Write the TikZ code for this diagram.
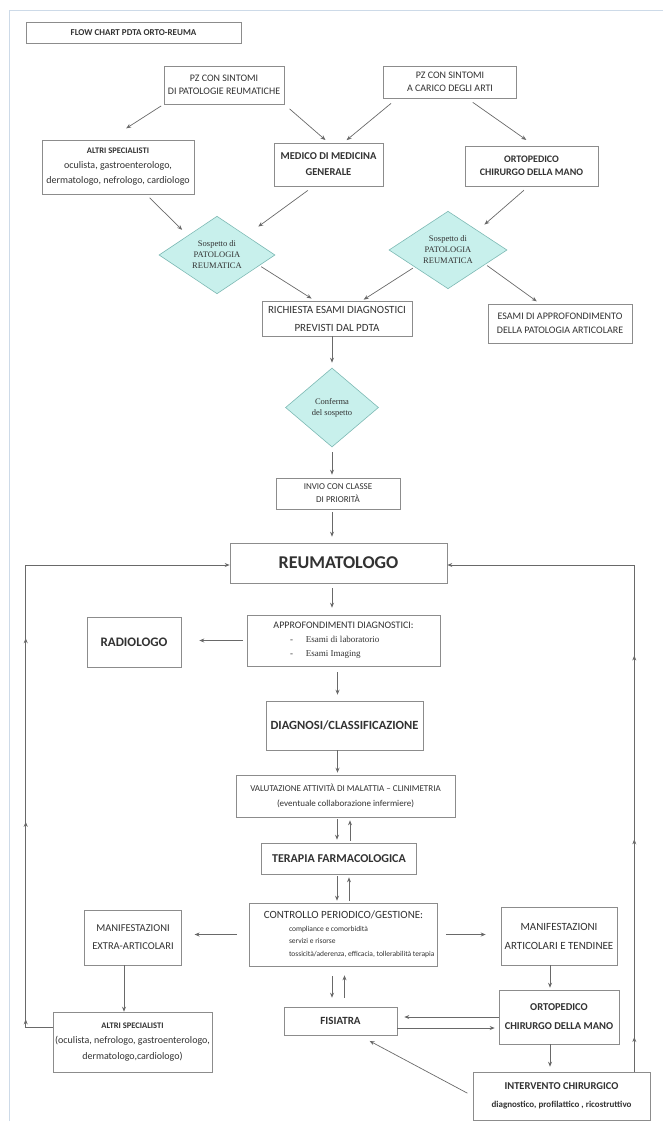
\documentclass[tikz,border=0pt]{standalone}
\usepackage{fontspec}
\setmainfont{Carlito}
\newfontfamily\serifd{Liberation Serif}
\usetikzlibrary{shapes.geometric,arrows.meta,decorations.markings}
\definecolor{bordo}{RGB}{140,140,140}
\definecolor{freccia}{RGB}{105,105,105}
\definecolor{testo}{RGB}{50,50,50}
\definecolor{rombo}{RGB}{200,240,236}
\definecolor{rombobordo}{RGB}{125,185,180}
\definecolor{cornice}{RGB}{205,218,232}
\newcommand{\fz}[2]{\fontsize{#1}{#2}\selectfont}
\newcommand{\voce}[2]{\makebox[#1pt][l]{\serifd\fz{9}{14}-\hspace{13pt}#2}}
\newcommand{\punto}[2]{\makebox[#1pt][l]{\fz{7.5}{12.5}#2}}
\tikzset{punta/.tip={Stealth[length=5pt,width=4pt]}}

\begin{document}
\begin{tikzpicture}[x=1pt,y=-1pt,
  box/.style={draw=bordo,line width=0.6pt,fill=white,text=testo,align=center,inner sep=0pt},
  rombo/.style={diamond,draw=rombobordo,line width=0.6pt,fill=rombo,text=testo,align=center,inner sep=0pt,font=\serifd\fz{8.5}{11}},
  arr/.style={draw=freccia,line width=0.7pt,-punta},
  giro/.style={draw=freccia,line width=0.8pt,-punta,postaction={decorate},
    decoration={markings,mark=at position 0.05 with {\arrow{punta}},
      mark=at position 0.335 with {\arrow{punta}},mark=at position 0.6 with {\arrow{punta}}}}]
  \useasboundingbox (0,0) rectangle (663,1129);
  \draw[cornice,line width=0.8pt] (9,1121) -- (9,10) -- (663,10); %枠

  \node[box,minimum width=215pt,minimum height=21pt,font=\bfseries\fz{9}{11}] (titolo) at (133.5,32.5) {FLOW CHART PDTA ORTO-REUMA};
  \node[box,minimum width=120pt,minimum height=38pt,font=\fz{10}{13}] (pz1) at (224,85) {PZ CON SINTOMI\\DI PATOLOGIE REUMATICHE};
  \node[box,minimum width=133pt,minimum height=32pt,font=\fz{10}{13}] (pz2) at (450,82) {PZ CON SINTOMI\\A CARICO DEGLI ARTI};
  \node[box,minimum width=152pt,minimum height=54pt,font=\fz{10}{15}] (altri1) at (118,167) {{\bfseries\fz{8.5}{15}ALTRI SPECIALISTI}\\oculista, gastroenterologo,\\dermatologo, nefrologo, cardiologo};
  \node[box,minimum width=109pt,minimum height=43pt,font=\bfseries\fz{10.5}{16}] (medico) at (328.5,164.5) {MEDICO DI MEDICINA\\GENERALE};
  \node[box,minimum width=133pt,minimum height=40pt,font=\bfseries\fz{10}{13.5}] (orto1) at (531.5,166) {ORTOPEDICO\\CHIRURGO DELLA MANO}; %上段

  \node[rombo,minimum width=116pt,minimum height=74pt] (d1) at (217,255) {Sospetto di\\PATOLOGIA\\REUMATICA};
  \node[rombo,minimum width=118pt,minimum height=76pt] (d2) at (448,250) {Sospetto di\\PATOLOGIA\\REUMATICA};
  \node[box,minimum width=150pt,minimum height=35pt,font=\fz{11}{18}] (richiesta) at (337,318.5) {RICHIESTA ESAMI DIAGNOSTICI\\PREVISTI DAL PDTA};
  \node[box,minimum width=144pt,minimum height=39pt,font=\fz{10}{14}] (esami) at (560,323.5) {ESAMI DI APPROFONDIMENTO\\DELLA PATOLOGIA ARTICOLARE};
  \node[rombo,minimum width=93pt,minimum height=79pt] (d3) at (332,407.5) {Conferma\\del sospetto};
  \node[box,minimum width=124pt,minimum height=31pt,font=\fz{9}{13}] (invio) at (338,493.5) {INVIO CON CLASSE\\DI PRIORITÀ}; %中段

  \node[box,minimum width=217pt,minimum height=40pt,font=\bfseries\fz{18}{20}] (reum) at (338.5,563) {REUMATOLOGO};
  \node[box,minimum width=193pt,minimum height=51pt,font=\fz{10}{14}] (approf) at (343.5,640.5) {APPROFONDIMENTI DIAGNOSTICI:\\\voce{107}{Esami di laboratorio}\\\voce{107}{Esami Imaging}};
  \node[box,minimum width=94pt,minimum height=50pt,font=\bfseries\fz{13}{16}] (radio) at (134,642) {RADIOLOGO};
  \node[box,minimum width=157pt,minimum height=49pt,font=\bfseries\fz{12.5}{14}] (diagnosi) at (344.5,725.5) {DIAGNOSI/CLASSIFICAZIONE};
  \node[box,minimum width=219pt,minimum height=42pt,font=\fz{9}{15}] (valut) at (345.5,796) {VALUTAZIONE ATTIVITÀ DI MALATTIA – CLINIMETRIA\\(eventuale collaborazione infermiere)};
  \node[box,minimum width=154.5pt,minimum height=31pt,font=\bfseries\fz{12}{14}] (terapia) at (339,858.5) {TERAPIA FARMACOLOGICA};
  \node[box,minimum width=188pt,minimum height=63pt,font=\fz{11}{12.5}] (controllo) at (343.5,934.5) {CONTROLLO PERIODICO/GESTIONE:\\\punto{109}{compliance e comorbidità}\\\punto{109}{servizi e risorse}\\\punto{109}{tossicità/aderenza, efficacia, tollerabilità terapia}};
  \node[box,minimum width=96.5pt,minimum height=55pt,font=\fz{10.5}{18}] (manifx) at (133,937.5) {MANIFESTAZIONI\\EXTRA-ARTICOLARI};
  \node[box,minimum width=116pt,minimum height=58pt,font=\fz{11}{19}] (manifa) at (559,936) {MANIFESTAZIONI\\ARTICOLARI E TENDINEE};
  \node[box,minimum width=159pt,minimum height=60pt,font=\fz{10}{15.5}] (altri2) at (132.5,1042) {{\bfseries\fz{8.5}{15.5}ALTRI SPECIALISTI}\\(oculista, nefrologo, gastroenterologo,\\dermatologo,cardiologo)};
  \node[box,minimum width=113pt,minimum height=28pt,font=\bfseries\fz{11}{13}] (fisiatra) at (340.5,1021) {FISIATRA};
  \node[box,minimum width=120pt,minimum height=54pt,font=\bfseries\fz{10.5}{19}] (orto2) at (559,1017) {ORTOPEDICO\\CHIRURGO DELLA MANO};
  \node[box,minimum width=177pt,minimum height=48pt,font=\bfseries\fz{10.5}{18}] (interv) at (561.5,1096) {INTERVENTO CHIRURGICO\\{\fz{9}{18}diagnostico, profilattico , ricostruttivo}}; %下段

  \draw[arr,shorten <=3pt,shorten >=21pt] (pz1.south west) -- ([xshift=-9.5pt]altri1.north);
  \draw[arr,shorten <=7pt,shorten >=4pt] (pz1.south east) -- (medico.north);
  \draw[arr,shorten <=8pt,shorten >=4pt] ([xshift=14pt]pz2.south west) -- ([xshift=15pt]medico.north);
  \draw[arr,shorten <=7pt,shorten >=10pt] ([xshift=17pt]pz2.south) -- ([xshift=3pt]orto1.north);
  \draw[arr,shorten <=5pt,shorten >=8pt] ([xshift=28pt]altri1.south) -- (d1.north west);
  \draw[arr,shorten <=7pt,shorten >=15pt] ([xshift=-15pt]medico.south) -- (d1.north east);
  \draw[arr,shorten <=6pt,shorten >=9pt] ([xshift=-3pt]orto1.south) -- (d2.north east); %上の矢印
  \draw[arr,shorten <=2pt,shorten >=4pt] (d1.-14) -- ([xshift=-22pt]richiesta.north);
  \draw[arr,shorten <=2pt,shorten >=2pt] (d2.207) -- ([xshift=25pt]richiesta.north);
  \draw[arr,shorten <=2pt,shorten >=4pt] (d2.-21) -- ([xshift=-20pt]esami.north);
  \draw[arr,shorten >=5pt] (richiesta.south -| d3.north) -- (d3.north);
  \draw[arr,shorten <=5pt,shorten >=3pt] (d3.south) -- (d3.south |- invio.north);
  \draw[arr,shorten <=3pt,shorten >=6pt] (d3.south |- invio.south) -- (d3.south |- reum.north);
  \draw[arr,shorten <=5pt,shorten >=7pt] (d3.south |- reum.south) -- (d3.south |- approf.north); %中央の矢印
  \draw[arr,shorten <=4pt,shorten >=18pt] (approf.west) -- (approf.west -| radio.east);
  \draw[arr,shorten <=6pt,shorten >=6pt] ([xshift=-7pt]diagnosi.north |- approf.south) -- ([xshift=-7pt]diagnosi.north);
  \draw[arr,shorten >=2pt] ([xshift=-7pt]diagnosi.south) -- ([xshift=-7pt]diagnosi.south |- valut.north);
  \draw[arr,shorten <=2pt,shorten >=3pt] ([xshift=-2pt]terapia.north |- valut.south) -- ([xshift=-2pt]terapia.north);
  \draw[arr,shorten <=2pt,shorten >=3pt] ([xshift=11pt]terapia.north) -- ([xshift=11pt]terapia.north |- valut.south);
  \draw[arr,shorten <=2pt,shorten >=2pt] ([xshift=-2pt]terapia.south) -- ([xshift=-2pt]terapia.south |- controllo.north);
  \draw[arr,shorten <=2pt,shorten >=3pt] ([xshift=10pt]terapia.south |- controllo.north) -- ([xshift=10pt]terapia.south); %往復の矢印
  \draw[arr,shorten <=10pt,shorten >=9pt] ([xshift=-8.5pt]fisiatra.north |- controllo.south) -- ([xshift=-8.5pt]fisiatra.north);
  \draw[arr,shorten <=9pt,shorten >=9pt] ([xshift=4pt]fisiatra.north) -- ([xshift=4pt]fisiatra.north |- controllo.south);
  \draw[arr,shorten <=12pt,shorten >=13pt] (controllo.west) -- (controllo.west -| manifx.east);
  \draw[arr,shorten <=8pt,shorten >=15pt] (controllo.east) -- (controllo.east -| manifa.west);
  \draw[arr] ([xshift=-9pt]manifx.south) -- ([xshift=-9pt]manifx.south |- altri2.north);
  \draw[arr,shorten >=2pt] ([xshift=-9pt]manifa.south) -- ([xshift=-9pt]manifa.south |- orto2.north);
  \draw[arr,shorten >=7pt] (orto2.west) -- (orto2.west -| fisiatra.east);
  \draw[arr,shorten >=4pt] ([yshift=-7pt]fisiatra.east) -- ([yshift=-7pt]fisiatra.east -| orto2.west);
  \draw[arr,shorten >=5pt] ([xshift=-9pt]orto2.south) -- ([xshift=-9pt]orto2.south |- interv.north);
  \draw[arr,shorten <=6pt,shorten >=12pt] (interv.west) -- ([xshift=18.5pt]fisiatra.south); %下の矢印

  \draw[giro] ([yshift=15pt]altri2.west) -- ++(-27,0) |- ([yshift=-2pt]reum.west); %左の戻り
  \draw[giro] ([xshift=-16pt]interv.north east) |- ([yshift=-2pt]reum.east); %右の戻り
\end{tikzpicture}
\end{document}
